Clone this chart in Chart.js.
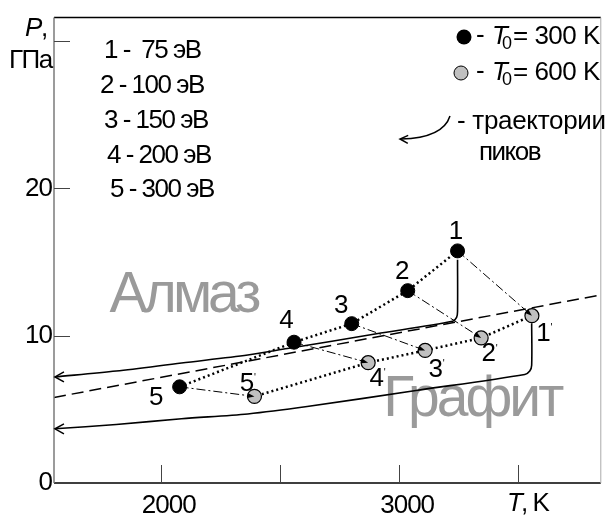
<!DOCTYPE html>
<html>
<head>
<meta charset="utf-8">
<script src="https://cdn.jsdelivr.net/npm/chart.js@4"></script>
<style>
  body { margin: 0; background: #fff; }
  #wrap { width: 609px; height: 516px; }
</style>
</head>
<body>
<div id="wrap"><canvas id="chart" width="609" height="516"></canvas></div>
<script>
// Axis ranges
const xMin = 1552, xMax = 3846;
const yMin = 0, yMax = 31.6;
const xTickValues = [2000, 2500, 3000, 3500];
const xTickLabels = ['2000', '', '3000', ''];
const yTickValues = [10, 20, 30];
const yLabelValues = [0, 10, 20];
const yTickLabels = ['0', '10', '20'];

// Peak positions, T0 = 300 K (points 1..5)
const pointNames = ['1', '2', '3', '4', '5'];
const tBlack = [3245, 3036, 2801, 2559, 2079];
const pBlack = [15.76, 13.06, 10.82, 9.56, 6.53];
// Peak positions, T0 = 600 K (points 1'..5')
const tGray = [3557, 3344, 3109, 2870, 2393];
const pGray = [11.36, 9.85, 9.0, 8.17, 5.88];

// Peak trajectories (solid, arrow at the left end)
const tTrajUpper = [1556, 1813, 2087, 2365, 2531, 2905, 3224, 3241, 3245, 3245];
const pTrajUpper = [7.2, 7.6, 8.15, 8.69, 9.13, 10.13, 10.98, 11.25, 11.65, 15.15];
const tTrajLower = [1556, 1813, 2087, 2365, 2614, 3071, 3527, 3548, 3556, 3556];
const pTrajLower = [3.68, 3.97, 4.36, 4.69, 5.19, 6.28, 7.37, 7.6, 8.0, 10.84];

// Diamond / graphite boundary (dashed)
const tBoundary = [1552, 3846];
const pBoundary = [5.81, 12.77];

const energyLines = ['1 -  75 эВ', '2 - 100 эВ', '3 - 150 эВ', '4 - 200 эВ', '5 - 300 эВ'];

// label offsets (px) from each marker
const blackLabelOffsets = [[-2, -19], [-6, -19], [-11, -18], [-8, -21], [-24, 11]];
const grayLabelOffsets = [[11, 18], [7, 16], [10, 19], [8, 16], [-8, -13]];

const FONT = "'Liberation Sans', Arial, sans-serif";
const FS = 26;
const GRAY_FILL = '#c0c0c0';

function pts(xs, ys) {
    return xs.map((x, i) => ({ x: x, y: ys[i] }));
}

const datasets = [
    {
        data: pts(tBlack, pBlack), showLine: true,
        borderColor: '#000', borderWidth: 2.5, borderDash: [2, 3],
        pointRadius: 7, pointBackgroundColor: '#000', pointBorderColor: '#000', pointBorderWidth: 1
    },
    {
        data: pts(tGray, pGray), showLine: true,
        borderColor: '#000', borderWidth: 2.5, borderDash: [2, 3],
        pointRadius: 7, pointBackgroundColor: GRAY_FILL, pointBorderColor: '#000', pointBorderWidth: 1.2
    }
];
// dash-dot connectors from each black peak to its gray counterpart
for (let i = 0; i < tBlack.length; i++) {
    datasets.push({
        data: [{ x: tBlack[i], y: pBlack[i] }, { x: tGray[i], y: pGray[i] }],
        showLine: true, borderColor: '#000', borderWidth: 1, borderDash: [9, 3, 2, 3],
        pointRadius: 0
    });
}
datasets.push({
    data: pts(tBoundary, pBoundary), showLine: true,
    borderColor: '#000', borderWidth: 1.5, borderDash: [12, 6], pointRadius: 0
});
datasets.push({
    data: pts(tTrajUpper, pTrajUpper), showLine: true, tension: 0.3,
    borderColor: '#000', borderWidth: 1.6, pointRadius: 0
});
datasets.push({
    data: pts(tTrajLower, pTrajLower), showLine: true, tension: 0.3,
    borderColor: '#000', borderWidth: 1.6, pointRadius: 0
});

function arrowHead(ctx, x, y, angle, len, half, filled) {
    ctx.save();
    ctx.translate(x, y);
    ctx.rotate(angle);
    ctx.beginPath();
    ctx.moveTo(-len, -half);
    ctx.lineTo(0, 0);
    ctx.lineTo(-len, half);
    if (filled) {
        ctx.closePath();
        ctx.fill();
    } else {
        ctx.stroke();
    }
    ctx.restore();
}

function drawT0(ctx, x, y, value) {
    ctx.save();
    ctx.textBaseline = 'middle';
    ctx.textAlign = 'left';
    ctx.font = 'italic ' + FS + 'px ' + FONT;
    ctx.fillText('T', x, y);
    ctx.font = '18px ' + FONT;
    ctx.fillText('0', x + 10, y + 7);
    ctx.font = FS + 'px ' + FONT;
    ctx.letterSpacing = '-0.5px';
    ctx.fillText('= ' + value + ' K', x + 21, y);
    ctx.restore();
}

const decor = {
    id: 'decor',
    beforeDraw(chart) {
        // tight letter spacing for the tick labels too
        chart.ctx.letterSpacing = '-1px';
    },
    beforeDatasetsDraw(chart) {
        const ctx = chart.ctx, xs = chart.scales.x, ys = chart.scales.y;
        ctx.save();
        ctx.fillStyle = '#9a9a9a';
        ctx.textAlign = 'center';
        ctx.textBaseline = 'middle';
        ctx.font = '57px ' + FONT;
        ctx.letterSpacing = '-4px';
        ctx.fillText('Алмаз', xs.getPixelForValue(2095), ys.getPixelForValue(12.66));
        ctx.letterSpacing = '-3px';
        ctx.fillText('Графит', xs.getPixelForValue(3307), ys.getPixelForValue(5.6));
        ctx.restore();
    },
    afterDatasetsDraw(chart) {
        const ctx = chart.ctx, xs = chart.scales.x, ys = chart.scales.y;
        const a = chart.chartArea;
        ctx.save();

        // frame
        ctx.lineWidth = 1.5;
        ctx.strokeStyle = '#000';
        ctx.beginPath();
        ctx.moveTo(a.left, a.bottom); ctx.lineTo(a.right, a.bottom);
        ctx.moveTo(a.left, a.top); ctx.lineTo(a.right, a.top);
        ctx.stroke();
        ctx.strokeStyle = '#7a7a7a';
        ctx.beginPath();
        ctx.moveTo(a.left, a.top); ctx.lineTo(a.left, a.bottom);
        ctx.stroke();
        ctx.strokeStyle = '#aaa';
        ctx.lineWidth = 1;
        ctx.beginPath();
        ctx.moveTo(a.right, a.top); ctx.lineTo(a.right, a.bottom);
        ctx.stroke();

        // inward ticks
        ctx.strokeStyle = '#444';
        ctx.lineWidth = 1;
        ctx.beginPath();
        xTickValues.forEach(v => {
            const px = Math.round(xs.getPixelForValue(v)) + 0.5;
            ctx.moveTo(px, a.bottom); ctx.lineTo(px, a.bottom - 18);
        });
        yTickValues.forEach(v => {
            const py = Math.round(ys.getPixelForValue(v)) + 0.5;
            ctx.moveTo(a.left, py); ctx.lineTo(a.left + 16, py);
        });
        ctx.stroke();

        // arrowheads of the trajectories
        ctx.strokeStyle = '#000';
        ctx.fillStyle = '#000';
        ctx.lineWidth = 1.5;
        arrowHead(ctx, xs.getPixelForValue(tTrajUpper[0]), ys.getPixelForValue(pTrajUpper[0]), Math.PI, 9, 5, false);
        arrowHead(ctx, xs.getPixelForValue(tTrajLower[0]), ys.getPixelForValue(pTrajLower[0]), Math.PI, 9, 5, false);

        // arrowheads of the dash-dot connectors
        for (let i = 0; i < tBlack.length; i++) {
            const x0 = xs.getPixelForValue(tBlack[i]), y0 = ys.getPixelForValue(pBlack[i]);
            const x1 = xs.getPixelForValue(tGray[i]), y1 = ys.getPixelForValue(pGray[i]);
            arrowHead(ctx, x1, y1, Math.atan2(y1 - y0, x1 - x0), 7, 2.5, true);
        }

        // point labels
        ctx.textAlign = 'center';
        ctx.textBaseline = 'middle';
        for (let i = 0; i < pointNames.length; i++) {
            ctx.font = FS + 'px ' + FONT;
            let px = xs.getPixelForValue(tBlack[i]), py = ys.getPixelForValue(pBlack[i]);
            ctx.fillText(pointNames[i], px + blackLabelOffsets[i][0], py + blackLabelOffsets[i][1]);
            px = xs.getPixelForValue(tGray[i]); py = ys.getPixelForValue(pGray[i]);
            const lx = px + grayLabelOffsets[i][0], ly = py + grayLabelOffsets[i][1];
            ctx.fillText(pointNames[i], lx, ly);
            ctx.font = '10px ' + FONT;
            ctx.fillText("'", lx + 8, ly - 5);
        }

        // energy list
        ctx.textAlign = 'left';
        ctx.font = FS + 'px ' + FONT;
        ctx.letterSpacing = '-1.5px';
        const ex = [104, 100, 104, 107, 110];
        energyLines.forEach((t, i) => ctx.fillText(t, ex[i], 51 + i * 34.8));

        // legend of markers
        ctx.beginPath();
        ctx.arc(464, 37, 7.5, 0, Math.PI * 2);
        ctx.fill();
        ctx.beginPath();
        ctx.arc(461, 73, 7, 0, Math.PI * 2);
        ctx.fillStyle = GRAY_FILL;
        ctx.fill();
        ctx.lineWidth = 1;
        ctx.stroke();
        ctx.fillStyle = '#000';
        ctx.fillText('-', 476, 36);
        ctx.fillText('-', 476, 72);
        drawT0(ctx, 492, 37, 300);
        drawT0(ctx, 492, 73, 600);

        // trajectory legend
        ctx.lineWidth = 1.5;
        ctx.beginPath();
        ctx.moveTo(450, 116);
        ctx.quadraticCurveTo(443, 138, 401, 139);
        ctx.stroke();
        arrowHead(ctx, 400, 139, Math.PI + 0.05, 8, 4, false);
        ctx.font = FS + 'px ' + FONT;
        ctx.letterSpacing = '-0.3px';
        ctx.fillText('- траектории', 457, 122);
        ctx.letterSpacing = '-1.5px';
        ctx.fillText('пиков', 479, 153);

        // axis titles
        ctx.fillText('ГПа', 9, 61);
        ctx.font = 'italic ' + FS + 'px ' + FONT;
        ctx.fillText('P', 25, 29);
        ctx.font = FS + 'px ' + FONT;
        ctx.fillText(',', 41, 29);
        ctx.font = 'italic ' + FS + 'px ' + FONT;
        ctx.fillText('T', 507, 504);
        ctx.font = FS + 'px ' + FONT;
        ctx.fillText(', K', 521, 504);

        ctx.restore();
    }
};

new Chart(document.getElementById('chart'), {
    type: 'scatter',
    data: { datasets: datasets },
    options: {
        responsive: false,
        animation: false,
        events: [],
        layout: { padding: { top: 14, right: 2, left: 0, bottom: 0 } },
        plugins: { legend: { display: false }, tooltip: { enabled: false } },
        scales: {
            x: {
                type: 'linear', min: xMin, max: xMax,
                grid: { display: false, drawTicks: false },
                border: { display: false },
                afterFit: s => { s.height = 33; },
                afterBuildTicks: s => { s.ticks = xTickValues.map(v => ({ value: v })); },
                ticks: {
                    autoSkip: false, maxRotation: 0, padding: 7, labelOffset: 8,
                    color: '#000', font: { family: FONT, size: FS },
                    callback: (v) => xTickLabels[xTickValues.indexOf(v)] || ''
                }
            },
            y: {
                type: 'linear', min: yMin, max: yMax,
                grid: { display: false, drawTicks: false },
                border: { display: false },
                afterFit: s => { s.width = 54; },
                afterBuildTicks: s => { s.ticks = yLabelValues.map(v => ({ value: v })); },
                ticks: {
                    padding: 2, color: '#000', font: { family: FONT, size: FS },
                    callback: (v) => yTickLabels[yLabelValues.indexOf(v)] || ''
                }
            }
        }
    },
    plugins: [decor]
});
</script>
</body>
</html>
